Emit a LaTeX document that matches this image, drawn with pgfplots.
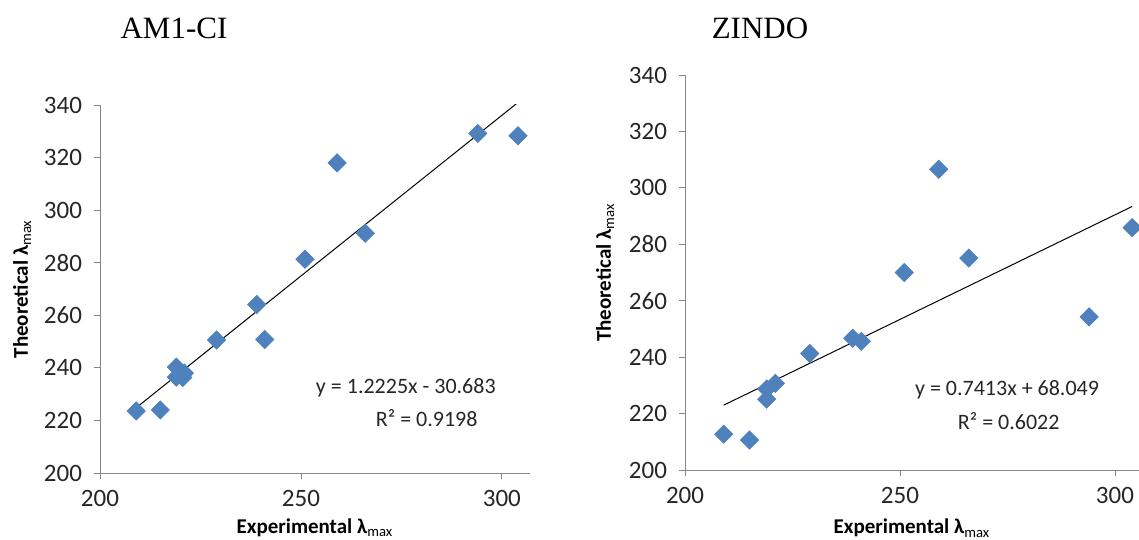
\documentclass[border=0pt]{standalone}
\usepackage{pgfplots}
\pgfplotsset{compat=1.18}
\usepackage{fontspec}
\setmainfont{Carlito}
\newfontfamily\timesfont{Liberation Serif}
\definecolor{exblue}{HTML}{4F81BD}
\definecolor{axgray}{HTML}{868686}
\pgfplotsset{
  exstyle/.style={
    scale only axis,
    anchor=south west,
    axis x line*=bottom,
    axis y line*=left,
    axis line style={axgray,-},
    every tick/.style={axgray},
    tick align=outside,
    major tick length=3pt,
    xtick={200,250,300},
    ytick={200,220,...,340},
    xmin=200, ymin=200, ymax=340,
    tick label style={font=\fontsize{12.5}{14}\selectfont, text=black!85},
    yticklabel style={xshift=-2.5pt},
    xticklabel style={yshift=-2pt},
    /pgf/number format/assume math mode=true,
    label style={font=\fontsize{10.5}{12}\selectfont\bfseries},
    clip=true,
  }
}
\begin{document}
\begin{tikzpicture}
% Left: AM1-CI
\begin{axis}[exstyle,
  at={(50pt,33.5pt)}, width=215pt, height=184pt, xmax=307,
  xlabel={Experimental λ\textsubscript{\mdseries max}},
  ylabel={Theoretical λ\textsubscript{\mdseries max}},
  xlabel style={at={(axis description cs:0.5,-0.149)}, anchor=center},
  ylabel style={at={(axis description cs:-0.181,0.5)}, anchor=center},
]
\addplot[only marks, mark=square*, mark size=3.2pt, mark options={rotate=45, fill=exblue, draw=exblue}]
coordinates {
(209,223.6) (215,224.0) (219,240.3) (219,236.5) (221,238.0) (220.6,236.3)
(229,250.6) (239,264.1) (241,250.8) (251,281.3) (259,318.0) (266,291.2)
(294,329.2) (304,328.3)
};
\addplot[black, line width=0.5pt] coordinates {(209,224.82) (304,340.96)};
\node[font=\fontsize{11}{13}\selectfont, text=black!85] at (axis cs:276.1,232.3) {y = 1.2225x - 30.683};
\node[font=\fontsize{11}{13}\selectfont, text=black!85] at (axis cs:281.3,220.9) {R² = 0.9198};
\end{axis}
% Right: ZINDO
\begin{axis}[exstyle,
  at={(342.5pt,35pt)}, width=227pt, height=197.5pt, xmax=305.6,
  xlabel={Experimental λ\textsubscript{\mdseries max}},
  ylabel={Theoretical λ\textsubscript{\mdseries max}},
  xlabel style={at={(axis description cs:0.5,-0.147)}, anchor=center},
  ylabel style={at={(axis description cs:-0.176,0.5)}, anchor=center},
  clip marker paths=false,
]
\addplot[only marks, mark=square*, mark size=3.2pt, mark options={rotate=45, fill=exblue, draw=exblue}]
coordinates {
(209,212.7) (215,210.6) (219,225.1) (219,228.7) (221,230.7)
(229,241.3) (239,246.7) (241,245.6) (251,270.0) (259,306.6) (266,275.1)
(294,254.3) (304,285.9)
};
\addplot[black, line width=0.5pt] coordinates {(209,222.98) (304,293.40)};
\node[font=\fontsize{11}{13}\selectfont, text=black!85] at (axis cs:274.9,228.4) {y = 0.7413x + 68.049};
\node[font=\fontsize{11}{13}\selectfont, text=black!85] at (axis cs:275.3,217.4) {R² = 0.6022};
\end{axis}
\node[font=\timesfont\fontsize{15.5}{18}\selectfont] at (87pt,256pt) {AM1-CI};
\node[font=\timesfont\fontsize{15.5}{18}\selectfont] at (380pt,256pt) {ZINDO};
\pgfresetboundingbox
\path[use as bounding box] (0pt,0pt) rectangle (569.5pt,270pt);
\end{tikzpicture}
\end{document}
